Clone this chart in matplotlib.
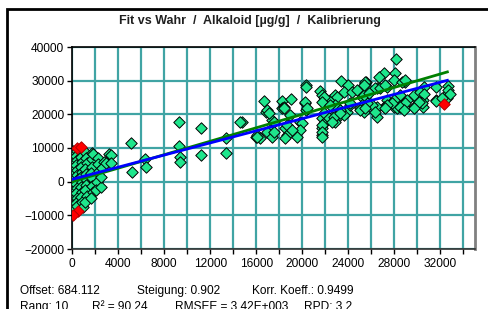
import matplotlib
matplotlib.use("Agg")
import matplotlib.pyplot as plt
from matplotlib.patches import Rectangle
from matplotlib.ticker import MultipleLocator

plt.rcParams['font.family'] = ['Liberation Sans', 'DejaVu Sans']

# reference (wahr) vs fitted values
wahr = [
    # dense cluster near zero
    120, 60, 150, 40, 180, 90, 30, 160, 70, 200, 20, 140, 60, 190, 90,
    420, 380, 470, 350, 440, 400, 480, 360, 450, 390, 460, 370, 430,
    820, 760, 850, 790, 830, 770, 860, 800, 840, 780, 880, 990,
    1230, 1180, 1260, 1150, 1220, 1190, 1250, 1170, 1300, 1130,
    1770, 1700, 1760, 1680, 1770, 1720, 1800, 1620, 1850,
    2300, 2250, 2350, 2200, 2060, 2490, 2780, 2640, 2490, 2930, 3220, 3390, 3390,
    # sparse middle part
    5130, 5190, 6350, 6410, 9330, 9300, 9390, 9390, 11220, 11220,
    13390, 13360, 14760, 14610, 16000,
    # main cloud
    20320, 23370, 23940, 25480, 16700, 18230, 19020, 16840, 18230, 20260,
    20320, 21570, 21710, 21860, 22440, 22870, 23590, 24320, 25040, 25630,
    18960, 19830, 19970, 19830, 21710, 21860, 21710, 21710, 22150, 22580,
    22870, 23300, 23890, 24170, 23010, 25040, 25330, 16060, 16350, 17370,
    17510, 17220, 18520, 18670, 18520, 16930, 19540,
    28150, 28090, 27070, 26640, 28960, 20350, 25570, 26500, 27370, 30550,
    31570, 32640, 32640, 31570, 30490, 29830, 29680, 30490, 28240, 27940,
    28960, 28240, 27370, 27070, 26500, 26500, 26060, 16930, 17080, 18380,
    20260, 20400, 21860, 21710, 23010, 22870, 24750, 25190, 25330, 25040,
    24170, 23590, 23300, 22440, 21860, 21710, 21710, 21710, 22290, 22730,
    22580, 23300, 18380, 18670, 19100, 16060, 17370, 17510, 28520, 29100,
    29680, 30260, 32580,
    27940, 28670, 28960, 32640, 32810, 31570, 32150, 30550, 30410, 30120,
    29680, 28960, 28520, 28810, 27940, 27800, 27370, 27220, 26350, 25630,
    25480, 25330, 25480, 26350, 26780, 27220, 25330, 25770,
]
fit = [
    9200, 8100, 6900, 5700, 4500, 3100, 1900, 700, -500, -1700, -2900, -4100, -5300, -6500, -7700,
    9100, 7700, 6300, 4900, 3500, 2100, 800, -600, -2000, -3400, -4800, -6200, -7300,
    8900, 7400, 5900, 4400, 2900, 1400, -100, -1600, -3100, -4600, -6000, -7400,
    8600, 7100, 5500, 3900, 2300, 700, -900, -2500, -4300, -5950,
    8420, 6600, 4440, 2600, 1000, -1300, -3000, -4940, 8215,
    7000, 5200, 3100, -10, -2480, -1500, 5930, 3970, 1470, 5450, 8210, 7920, 5450,
    11390, 2960, 6630, 4270, 17630, 10680, 7230, 5930, 15850, 7920,
    12880, 8600, 17630, 17810, 13360,
    28710, 29900, 28710, 29210, 24040, 24040, 24550, 20780, 21790, 23270,
    21280, 27010, 25740, 24250, 24250, 25740, 26720, 26720, 26720, 27730,
    19800, 17810, 17330, 15340, 18820, 17330, 15850, 13860, 18310, 19290,
    17810, 19800, 20780, 22770, 22270, 21790, 20780, 13860, 12880, 18310,
    17810, 15340, 15850, 13860, 12880, 14850, 13360,
    36340, 32360, 32180, 31000, 29690, 28030, 29690, 27730, 28210, 28030,
    28030, 28410, 26240, 24250, 24250, 24750, 22270, 22270, 24250, 22270,
    21790, 21790, 24250, 22270, 19290, 22270, 22770, 21280, 20300, 22270,
    23750, 21790, 25250, 23750, 25250, 22770, 27230, 25250, 23270, 21280,
    23270, 19800, 21280, 22770, 20300, 16830, 14850, 13360, 18820, 19290,
    17810, 20300, 21790, 16830, 15340, 13360, 13360, 14850, 25740, 24250,
    25740, 26720, 24750,
    30190, 29690, 30190, 27220, 25950, 23960, 24750, 25950, 23270, 23750,
    21790, 23270, 22270, 21280, 24250, 23270, 22770, 21790, 20780, 23270,
    21790, 25740, 29690, 27730, 27730, 28710, 28710, 26240,
]

# outliers marked red
red_wahr = [410, 800, 550, 50, 32290]
red_fit = [9900, 10300, -8700, -9900, 23000]

# regression line and 1:1 line
offset = 684.112
slope = 0.902
line_x = [0, 32600]

stats_row1 = [("Offset: 684.112", 20), ("Steigung: 0.902", 137), ("Korr. Koeff.: 0.9499", 252)]
stats_row2 = [("Rang: 10", 20), ("R² = 90.24", 92), ("RMSEE = 3.42E+003", 175), ("RPD: 3.2", 304)]

W, H = 488, 309
fig = plt.figure(figsize=(W / 100, H / 100), dpi=100)
fig.patch.set_facecolor('white')

# outer frame of the chart window
fig.patches.append(Rectangle((7 / W, -0.1), 1.2, 1 - 9 / H + 0.1, transform=fig.transFigure,
                             fill=False, edgecolor='black', linewidth=2))

ax = fig.add_axes([72 / W, 1 - 249 / H, (475 - 72) / W, (249 - 47) / H])

ax.scatter(wahr, fit, marker='D', s=34, facecolor='#1ee68c', edgecolor='black',
           linewidth=0.7, zorder=3)
ax.scatter(red_wahr, red_fit, marker='D', s=34, facecolor='#ff0000', edgecolor='#b00000',
           linewidth=0.7, zorder=3)

ax.plot(line_x, line_x, color='#008000', linewidth=2, zorder=4)
ax.plot(line_x, [offset + slope * v for v in line_x], color='#0000ff', linewidth=2, zorder=5)

ax.set_xlim(0, 35000)
ax.set_ylim(-20000, 40000)
ax.xaxis.set_major_locator(MultipleLocator(4000))
ax.xaxis.set_minor_locator(MultipleLocator(2000))
ax.yaxis.set_major_locator(MultipleLocator(10000))

ax.grid(True, which='both', axis='x', color='#40a4a4', linewidth=1.6, zorder=1)
ax.grid(True, which='major', axis='y', color='#40a4a4', linewidth=1.6, zorder=1)
ax.set_axisbelow(True)

ax.tick_params(axis='both', which='both', direction='out', length=3.5, width=1,
               color='black', labelsize=8.6, pad=2)
ax.tick_params(axis='x', pad=3)

for side in ['top', 'left', 'bottom']:
    ax.spines[side].set_color('black')
    ax.spines[side].set_linewidth(1.2)
ax.spines['right'].set_color('#808080')
ax.spines['right'].set_linewidth(2)
ax.spines['bottom'].set_color('#303030')

fig.text(250 / W, 1 - 21 / H, "Fit vs Wahr  /  Alkaloid [µg/g]  /  Kalibrierung",
         ha='center', va='center', fontsize=9, fontweight='bold', color='#202020')

for label, px in stats_row1:
    fig.text(px / W, 1 - 294 / H, label, ha='left', va='baseline', fontsize=8.6)
# the second row is partly cut off by the bottom edge, as in the original
for label, px in stats_row2:
    fig.text(px / W, 1 - 310 / H, label, ha='left', va='baseline', fontsize=8.6)

fig.savefig('out.png', dpi=100)
